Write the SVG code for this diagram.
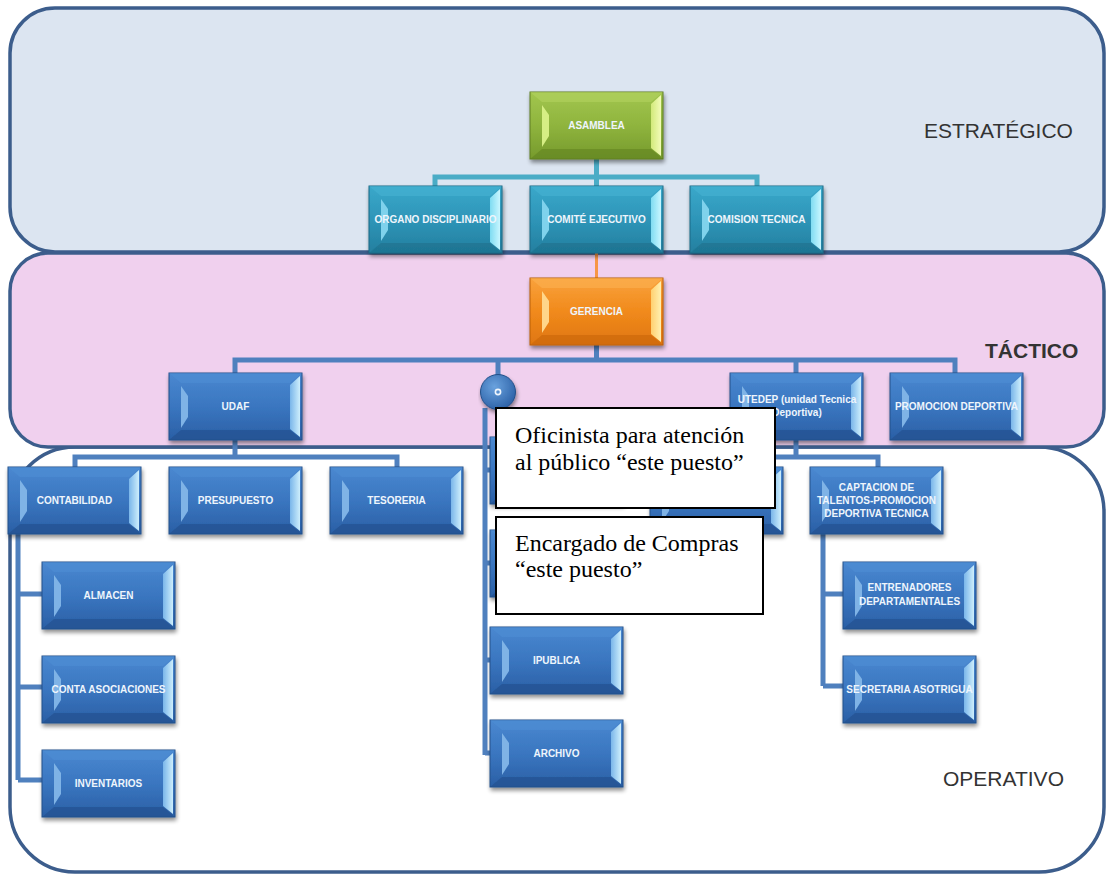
<svg xmlns="http://www.w3.org/2000/svg" xmlns:xlink="http://www.w3.org/1999/xlink" width="1108" height="874" viewBox="0 0 1108 874">
<style>
.band{stroke:#3c5d8c;stroke-width:3.5}
.lbl{font-family:"Liberation Sans",Arial,sans-serif;font-size:21px;fill:#333333}
.nt{font-family:"Liberation Sans",Arial,sans-serif;font-size:10px;font-weight:bold;fill:#eef5fc;text-anchor:middle}
.cb{stroke:#4f80be;stroke-width:5;fill:none}
.ct{stroke:#4bacc6;stroke-width:5;fill:none}
.co{stroke:#f79646;stroke-width:3;fill:none}
.tb{fill:#ffffff;stroke:#000000;stroke-width:2}
.tt{font-family:"Liberation Serif","Times New Roman",serif;font-size:24px;fill:#000000}
</style>
<defs>
<filter id="sh" x="-10%" y="-10%" width="130%" height="140%">
<feGaussianBlur in="SourceAlpha" stdDeviation="2"/>
<feOffset dx="1" dy="3"/>
<feComponentTransfer><feFuncA type="linear" slope="0.45"/></feComponentTransfer>
<feMerge><feMergeNode/><feMergeNode in="SourceGraphic"/></feMerge>
</filter>
<linearGradient id="gB" x1="0" y1="0" x2="0" y2="1"><stop offset="0" stop-color="#4a88d0"/><stop offset="0.5" stop-color="#3a76c0"/><stop offset="1" stop-color="#2a5fa5"/></linearGradient>
<linearGradient id="gT" x1="0" y1="0" x2="0" y2="1"><stop offset="0" stop-color="#3aa8ca"/><stop offset="0.5" stop-color="#2e95b8"/><stop offset="1" stop-color="#247f9f"/></linearGradient>
<linearGradient id="gG" x1="0" y1="0" x2="0" y2="1"><stop offset="0" stop-color="#a2c64e"/><stop offset="0.5" stop-color="#8fb43e"/><stop offset="1" stop-color="#769a2c"/></linearGradient>
<linearGradient id="gO" x1="0" y1="0" x2="0" y2="1"><stop offset="0" stop-color="#f9a23c"/><stop offset="0.5" stop-color="#f18a1c"/><stop offset="1" stop-color="#df7610"/></linearGradient>
<linearGradient id="rB" x1="0" y1="0" x2="1" y2="0"><stop offset="0" stop-color="#7ab6ea"/><stop offset="1" stop-color="#cdeefc"/></linearGradient>
<linearGradient id="rT" x1="0" y1="0" x2="1" y2="0"><stop offset="0" stop-color="#7fdcf2"/><stop offset="1" stop-color="#c8f6ff"/></linearGradient>
<linearGradient id="rG" x1="0" y1="0" x2="1" y2="0"><stop offset="0" stop-color="#d2ea7a"/><stop offset="1" stop-color="#f2fbb8"/></linearGradient>
<linearGradient id="rO" x1="0" y1="0" x2="1" y2="0"><stop offset="0" stop-color="#ffd070"/><stop offset="1" stop-color="#fff0b0"/></linearGradient>
<g id="bvB" filter="url(#sh)">
<rect x="0" y="0" width="133" height="67" fill="url(#gB)" stroke="#24518a" stroke-width="1"/>
<polygon points="0,0 133,0 121,10 12,10" fill="#4f8ed4" opacity="0.6"/>
<polygon points="0,67 133,67 121,57 12,57" fill="#234f8c" opacity="0.6"/>
<polygon points="12,13 19,23 19,44 12,55" fill="#7fb3e6"/>
<polygon points="121,12 131,3 131,64 121,56" fill="url(#rB)"/>
</g>
<g id="bvT" filter="url(#sh)">
<rect x="0" y="0" width="133" height="67" fill="url(#gT)" stroke="#1c6985" stroke-width="1"/>
<polygon points="0,0 133,0 121,10 12,10" fill="#46b2d2" opacity="0.6"/>
<polygon points="0,67 133,67 121,57 12,57" fill="#1d6f8c" opacity="0.6"/>
<polygon points="12,13 19,23 19,44 12,55" fill="#7fd2ec"/>
<polygon points="121,12 131,3 131,64 121,56" fill="url(#rT)"/>
</g>
<g id="bvG" filter="url(#sh)">
<rect x="0" y="0" width="133" height="67" fill="url(#gG)" stroke="#5f7d22" stroke-width="1"/>
<polygon points="0,0 133,0 121,10 12,10" fill="#b2d260" opacity="0.6"/>
<polygon points="0,67 133,67 121,57 12,57" fill="#62831f" opacity="0.6"/>
<polygon points="12,13 19,23 19,44 12,55" fill="#d6ee84"/>
<polygon points="121,12 131,3 131,64 121,56" fill="url(#rG)"/>
</g>
<g id="bvO" filter="url(#sh)">
<rect x="0" y="0" width="133" height="67" fill="url(#gO)" stroke="#b85f0a" stroke-width="1"/>
<polygon points="0,0 133,0 121,10 12,10" fill="#fbb050" opacity="0.6"/>
<polygon points="0,67 133,67 121,57 12,57" fill="#c9650c" opacity="0.6"/>
<polygon points="12,13 19,23 19,44 12,55" fill="#ffd68a"/>
<polygon points="121,12 131,3 131,64 121,56" fill="url(#rO)"/>
</g>
<radialGradient id="gC" cx="0.4" cy="0.35" r="0.7"><stop offset="0" stop-color="#6aa2de"/><stop offset="1" stop-color="#2a5fa5"/></radialGradient>
</defs>
<rect x="0" y="0" width="1108" height="874" fill="#ffffff"/>
<g id="bands">
<rect class="band" x="10" y="8" width="1094" height="244" rx="45" fill="#dce5f1"/>
<rect class="band" x="10" y="447" width="1094" height="425" rx="65" fill="#ffffff"/>
<rect class="band" x="10" y="253" width="1094" height="194" rx="38" fill="#f0d0ee"/>
<text class="lbl" x="924" y="138">ESTRATÉGICO</text>
<text class="lbl" x="985" y="358" font-size="22" font-weight="bold" fill="#1e1e1e">TÁCTICO</text>
<text class="lbl" x="943" y="786" font-size="23">OPERATIVO</text>
</g>
<g id="connectors">
<path class="ct" d="M596.5,158 V186 M435,186 V177 H757 V186"/>
<path class="co" d="M596.5,252 V278"/>
<path class="cb" d="M596.5,345 V360 M235,373 V360 H955 V373 M498,360 V375 M796,360 V373"/>
<path class="cb" d="M235,440 V457 M75,467 V457 H397 V467"/>
<path class="cb" d="M18,533 V780 M18,594 H42 M18,687 H42 M18,780 H42"/>
<path class="cb" d="M485,408 V755 M485,470 H490 M485,563 H490 M485,660 H490 M485,753 H490"/>
<path class="cb" d="M796,440 V457 M716,467 V457 H878 V467"/>
<path class="cb" d="M823,533 V686 M823,594 H843 M823,686 H843"/>
</g>
<g id="n-asamblea"><use href="#bvG" x="530" y="92"/><text class="nt" x="596.5" y="129">ASAMBLEA</text></g>
<g id="n-organo"><use href="#bvT" x="369" y="186"/><text class="nt" x="435.5" y="223">ORGANO DISCIPLINARIO</text></g>
<g id="n-comite"><use href="#bvT" x="530" y="186"/><text class="nt" x="596.5" y="223">COMITÉ EJECUTIVO</text></g>
<g id="n-comision"><use href="#bvT" x="690" y="186"/><text class="nt" x="756.5" y="223">COMISION TECNICA</text></g>
<g id="n-gerencia"><use href="#bvO" x="530" y="278"/><text class="nt" x="596.5" y="315">GERENCIA</text></g>
<g id="n-udaf"><use href="#bvB" x="169" y="373"/><text class="nt" x="235.5" y="410">UDAF</text></g>
<g id="n-circle"><circle cx="498" cy="392" r="17.5" fill="url(#gC)" stroke="#24518a" stroke-width="1" filter="url(#sh)"/><circle cx="498" cy="392" r="2.6" fill="none" stroke="#eef5fc" stroke-width="1.6"/></g>
<g id="n-utedep"><use href="#bvB" x="730" y="373"/><text class="nt" x="797" y="403">UTEDEP (unidad Tecnica</text><text class="nt" x="797" y="416">Deportiva)</text></g>
<g id="n-promocion"><use href="#bvB" x="890" y="373"/><text class="nt" x="956.5" y="410">PROMOCION DEPORTIVA</text></g>
<g id="n-contabilidad"><use href="#bvB" x="8" y="467"/><text class="nt" x="74.5" y="503.5">CONTABILIDAD</text></g>
<g id="n-presupuesto"><use href="#bvB" x="169" y="467"/><text class="nt" x="235.5" y="503.5">PRESUPUESTO</text></g>
<g id="n-tesoreria"><use href="#bvB" x="330" y="467"/><text class="nt" x="396.5" y="503.5">TESORERIA</text></g>
<g id="n-hidden1"><use href="#bvB" x="490" y="437"/></g>
<g id="n-hidden2"><use href="#bvB" x="490" y="530"/></g>
<g id="n-hidden3"><use href="#bvB" x="650" y="467"/></g>
<g id="n-ipublica"><use href="#bvB" x="490" y="627"/><text class="nt" x="556.5" y="663.5">IPUBLICA</text></g>
<g id="n-archivo"><use href="#bvB" x="490" y="720"/><text class="nt" x="556.5" y="756.5">ARCHIVO</text></g>
<g id="n-captacion"><use href="#bvB" x="810" y="467"/><text class="nt" x="876.5" y="491">CAPTACION DE</text><text class="nt" x="876.5" y="504">TALENTOS-PROMOCION</text><text class="nt" x="876.5" y="517">DEPORTIVA TECNICA</text></g>
<g id="n-almacen"><use href="#bvB" x="42" y="562"/><text class="nt" x="108.5" y="598.5">ALMACEN</text></g>
<g id="n-conta-asoc"><use href="#bvB" x="42" y="656"/><text class="nt" x="108.5" y="692.5">CONTA ASOCIACIONES</text></g>
<g id="n-inventarios"><use href="#bvB" x="42" y="750"/><text class="nt" x="108.5" y="786.5">INVENTARIOS</text></g>
<g id="n-entrenadores"><use href="#bvB" x="843" y="562"/><text class="nt" x="909.5" y="591">ENTRENADORES</text><text class="nt" x="909.5" y="604.5">DEPARTAMENTALES</text></g>
<g id="n-secretaria"><use href="#bvB" x="843" y="656"/><text class="nt" x="909.5" y="692.5">SECRETARIA ASOTRIGUA</text></g>
<g id="note-oficinista"><rect class="tb" x="496" y="408" width="279" height="100"/><text class="tt" x="515" y="443">Oficinista para atención</text><text class="tt" x="515" y="470">al público “este puesto”</text></g>
<g id="note-compras"><rect class="tb" x="496" y="517" width="267" height="97"/><text class="tt" x="515" y="551">Encargado de Compras</text><text class="tt" x="515" y="577">“este puesto”</text></g>
</svg>
